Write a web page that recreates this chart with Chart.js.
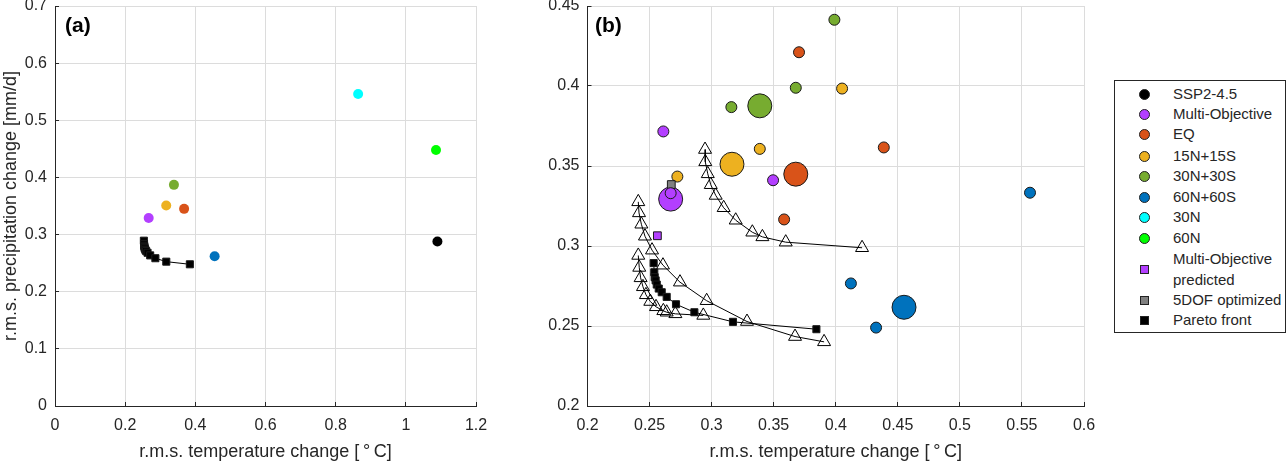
<!DOCTYPE html>
<html>
<head>
<meta charset="utf-8">
<script src="https://cdn.jsdelivr.net/npm/chart.js@4"></script>
<style>
  html, body { margin: 0; padding: 0; background: #fff; overflow: hidden; }
  body { width: 1288px; height: 463px; position: relative; font-family: "Liberation Sans", Arial, sans-serif; color: #262626; }
  canvas { position: absolute; top: 0; }
  .tag { position: absolute; top: 13px; font-size: 21px; font-weight: bold; color: #000; }
  #legend { position: absolute; left: 1114px; top: 80px; width: 170px; height: 251px; border: 1px solid #262626; box-sizing: content-box; background: #fff; }
  #legend .row { position: absolute; left: 58px; font-size: 15px; line-height: 20.6px; color: #262626; white-space: nowrap; }
  #legend .mark { position: absolute; left: 24px; width: 11px; height: 11px; box-sizing: border-box; border: 1px solid #222; }
  #legend .mark.round { border-radius: 50%; }
  #legend .mark.box { left: 25px; width: 9px; height: 9px; }
</style>
</head>
<body>
<canvas id="panelA"></canvas>
<canvas id="panelB"></canvas>
<div class="tag" style="left:65px">(a)</div>
<div class="tag" style="left:595px">(b)</div>
<div id="legend"></div>
<script>
// values, [temperature, precipitation]
const ssp245 = [[1.09, 0.288]];
const multiObjectiveA = [[0.267, 0.329]];
const eqA = [[0.368, 0.345]];
const n15s15A = [[0.317, 0.351]];
const n30s30A = [[0.339, 0.387]];
const n60s60A = [[0.455, 0.262]];
const n30 = [[0.864, 0.546]];
const n60 = [[1.086, 0.448]];

const paretoFront = [[0.2533, 0.2893], [0.2538, 0.2836], [0.2541, 0.2805], [0.2549, 0.2785], [0.2558, 0.2759],
  [0.2574, 0.2734], [0.2598, 0.2711], [0.2638, 0.2682], [0.2713, 0.2636], [0.2861, 0.2586], [0.3172, 0.2526], [0.3844, 0.248]];

const multiObjectiveSmall = [[0.2611, 0.3716], [0.3495, 0.3411], [0.267, 0.333]];
const multiObjectiveBig = [[0.267, 0.3293]];
const eqSmall = [[0.3704, 0.4211], [0.4387, 0.3616], [0.3584, 0.3166]];
const eqBig = [[0.3678, 0.3449]];
const n15s15Small = [[0.4051, 0.3984], [0.3388, 0.3607], [0.2724, 0.3434]];
const n15s15Big = [[0.3164, 0.3511]];
const n30s30Small = [[0.3989, 0.4414], [0.3678, 0.3989], [0.3159, 0.3868]];
const n30s30Big = [[0.3388, 0.3876]];
const n60s60Small = [[0.5565, 0.3333], [0.4122, 0.2766], [0.4325, 0.249]];
const n60s60Big = [[0.455, 0.2617]];
const multiObjectivePredicted = [[0.2563, 0.3064]];
const fiveDofOptimized = [[0.2675, 0.3384]];

const triangleUpper = [[0.2947, 0.3603], [0.2949, 0.3526], [0.2969, 0.3451], [0.2993, 0.3383], [0.3033, 0.3316], [0.3097, 0.3239],
  [0.3194, 0.3161], [0.3328, 0.3086], [0.3409, 0.3057], [0.3597, 0.3024], [0.4212, 0.2989]];
const triangleMiddle = [[0.2409, 0.3276], [0.2415, 0.3207], [0.2434, 0.3136], [0.2463, 0.3061], [0.252, 0.2974], [0.2608, 0.288],
  [0.2745, 0.2774], [0.296, 0.2658], [0.3285, 0.2528], [0.3672, 0.2434], [0.3906, 0.2401]];
const triangleLower = [[0.2409, 0.2941], [0.2417, 0.2866], [0.2428, 0.2801], [0.2447, 0.2745], [0.2471, 0.2695], [0.2506, 0.2653],
  [0.2552, 0.262], [0.2611, 0.2595], [0.2638, 0.2586], [0.2708, 0.2576], [0.2933, 0.2566]];

const ticksA_x = [0, 0.2, 0.4, 0.6, 0.8, 1, 1.2];
const ticksA_y = [0, 0.1, 0.2, 0.3, 0.4, 0.5, 0.6, 0.7];
const ticksB_x = [0.2, 0.25, 0.3, 0.35, 0.4, 0.45, 0.5, 0.55, 0.6];
const ticksB_y = [0.2, 0.25, 0.3, 0.35, 0.4, 0.45];

const legendNames = ['SSP2-4.5', 'Multi-Objective', 'EQ', '15N+15S', '30N+30S', '60N+60S', '30N', '60N',
  'Multi-Objective<br>predicted', '5DOF optimized', 'Pareto front'];

const C = { black: '#000000', purple: '#b33fff', eq: '#d95319', yellow: '#edb120', green: '#77ac30', blue: '#0072bd', cyan: '#00ffff', lime: '#00ff00', gray: '#808080' };
const textColor = '#262626';
const gridColor = '#dcdcdc';

function dots(data, color, r, edge) {
  return { data, showLine: false, pointStyle: 'circle', pointRadius: r, pointHoverRadius: r, backgroundColor: color,
    pointBackgroundColor: color, pointBorderColor: '#1a1a1a', pointBorderWidth: edge };
}
function squares(data, color, r, withLine) {
  return { data, showLine: !!withLine, borderColor: '#000', borderWidth: 1, pointStyle: 'rect', pointRadius: r, pointHoverRadius: r,
    pointBackgroundColor: color, pointBorderColor: '#1a1a1a', pointBorderWidth: 1 };
}
function triangles(data) {
  return { data, showLine: true, borderColor: '#000', borderWidth: 1, pointStyle: 'triangle', pointRadius: 7.5, pointHoverRadius: 7.5,
    pointBackgroundColor: 'rgba(255,255,255,0)', pointBorderColor: '#000', pointBorderWidth: 1 };
}

function axis(tickVals, min, max, label, isY, sizePx) {
  const opts = {
    type: 'linear', min, max,
    grid: { color: gridColor, lineWidth: 1, tickLength: -4, tickColor: textColor, drawOnChartArea: true },
    border: { color: textColor, width: 1 },
    ticks: { color: textColor, font: { size: 16, family: '"Liberation Sans"' }, padding: isY ? 12 : 14, maxRotation: 0, autoSkip: false,
      callback: v => String(v) },
    afterBuildTicks: s => { s.ticks = tickVals.map(v => ({ value: v })); },
    afterFit: s => {
      if (isY) { s.width = sizePx; s.paddingTop = 0; s.paddingBottom = 0; }
      else { s.height = sizePx; s.paddingLeft = 0; s.paddingRight = 0; }
    }
  };
  if (label) opts.title = { display: true, text: label, color: textColor, font: { size: 18, family: '"Liberation Sans"' }, padding: 0 };
  return opts;
}

function makeChart(id, left, width, datasets, scales, padRight) {
  const cv = document.getElementById(id);
  cv.style.left = left + 'px';
  cv.style.width = width + 'px';
  cv.style.height = '463px';
  cv.width = width; cv.height = 463;
  return new Chart(cv, {
    type: 'scatter',
    data: { datasets },
    options: {
      responsive: false, animation: false, devicePixelRatio: 1,
      layout: { autoPadding: false, padding: { left: 0, right: padRight, top: 6, bottom: 0 } },
      plugins: { legend: { display: false }, tooltip: { enabled: false } },
      scales
    }
  });
}

const xTitle = 'r.m.s. temperature change [\u2009\u00b0\u2009C]';

// panel a
makeChart('panelA', 0, 540, [
  squares(paretoFront, C.black, 5, true),
  dots(ssp245, C.black, 5, 0),
  dots(multiObjectiveA, C.purple, 5, 0),
  dots(eqA, C.eq, 5, 0),
  dots(n15s15A, C.yellow, 5, 0),
  dots(n30s30A, C.green, 5, 0),
  dots(n60s60A, C.blue, 5, 0),
  dots(n30, C.cyan, 5, 0),
  dots(n60, C.lime, 5, 0)
], {
  x: axis(ticksA_x, 0, 1.2, xTitle, false, 57),
  y: axis(ticksA_y, 0, 0.7, 'r.m.s. precipitation change [mm/d]', true, 55)
}, 64);

// panel b, first dataset ends up on top
makeChart('panelB', 500, 600, [
  squares(paretoFront, C.black, 5, true),
  triangles(triangleUpper),
  triangles(triangleMiddle),
  triangles(triangleLower),
  dots(multiObjectiveSmall, C.purple, 5.5, 1),
  squares(fiveDofOptimized, C.gray, 5.5),
  squares(multiObjectivePredicted, C.purple, 5.5),
  dots(multiObjectiveBig, C.purple, 12, 1),
  dots(eqSmall, C.eq, 5.5, 1),
  dots(eqBig, C.eq, 12, 1),
  dots(n15s15Small, C.yellow, 5.5, 1),
  dots(n15s15Big, C.yellow, 12, 1),
  dots(n30s30Small, C.green, 5.5, 1),
  dots(n30s30Big, C.green, 12, 1),
  dots(n60s60Small, C.blue, 5.5, 1),
  dots(n60s60Big, C.blue, 12, 1)
], {
  x: axis(ticksB_x, 0.2, 0.6, xTitle, false, 57),
  y: axis(ticksB_y, 0.2, 0.45, null, true, 87.5)
}, 16);

// legend box
const legendColors = [C.black, C.purple, C.eq, C.yellow, C.green, C.blue, C.cyan, C.lime, C.purple, C.gray, C.black];
const legendEl = document.getElementById('legend');
const rowTops = [3, 23, 43, 65, 85, 106, 126, 147, 168, 209, 229];
legendNames.forEach((name, i) => {
  const row = document.createElement('div');
  row.className = 'row';
  row.style.top = rowTops[i] + 'px';
  row.innerHTML = name;
  legendEl.appendChild(row);
  const isBox = i >= 8;
  const twoLine = i === 8;
  const mark = document.createElement('div');
  mark.className = 'mark ' + (isBox ? 'box' : 'round');
  mark.style.background = legendColors[i];
  mark.style.top = (rowTops[i] + (twoLine ? 16 : (isBox ? 6 : 5))) + 'px';
  legendEl.appendChild(mark);
});
</script>
</body>
</html>
